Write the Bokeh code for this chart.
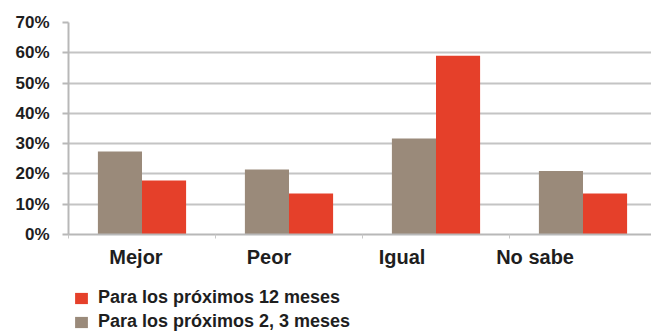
from bokeh.plotting import figure
from bokeh.layouts import column
from bokeh.models import FixedTicker, NumeralTickFormatter, Legend, LegendItem, Range1d
from bokeh.embed import file_html
from bokeh.resources import INLINE
import numpy as np

categories = ["Mejor", "Peor", "Igual", "No sabe"]
series_12 = [0.178, 0.135, 0.59, 0.135]      # Para los próximos 12 meses
series_2_3 = [0.274, 0.215, 0.317, 0.21]     # Para los próximos 2, 3 meses
series_labels = ["Para los próximos 12 meses", "Para los próximos 2, 3 meses"]
y_ticks = [0, 0.1, 0.2, 0.3, 0.4, 0.5, 0.6, 0.7]

RED = "#e5402a"
GRAY = "#9a8a7a"
FONT = "Liberation Sans"
TXT = "#1e1e1e"

n = len(categories)
xc = np.arange(n) + 0.5
bw = 0.3
# category labels in the reference sit a little left of the group centres
label_x = 0.459 + 0.905 * np.arange(n)

p = figure(width=651, height=275, output_backend="svg", toolbar_location=None,
           x_range=Range1d(0, 3.966), y_range=Range1d(0, 0.7),
           min_border_left=68, min_border_right=0, min_border_top=22, min_border_bottom=41)
p.outline_line_color = None
p.background_fill_color = "white"

r_gray = p.vbar(x=xc - 0.15, top=series_2_3, width=bw, fill_color=GRAY, line_color=None)
r_red = p.vbar(x=xc + 0.15, top=series_12, width=bw, fill_color=RED, line_color=None)

# y axis
p.yaxis.ticker = FixedTicker(ticks=y_ticks)
p.yaxis.formatter = NumeralTickFormatter(format="0%")
p.yaxis.axis_line_color = "#b8b8b8"
p.yaxis.axis_line_width = 2
p.yaxis.major_tick_line_color = "#b8b8b8"
p.yaxis.major_tick_line_width = 2
p.yaxis.major_tick_out = 6
p.yaxis.major_tick_in = 0
p.yaxis.minor_tick_line_color = None
p.yaxis.major_label_text_font = FONT
p.yaxis.major_label_text_font_style = "bold"
p.yaxis.major_label_text_font_size = "17px"
p.yaxis.major_label_text_color = TXT
p.yaxis.major_label_standoff = 13

# x axis
p.xaxis.ticker = FixedTicker(ticks=list(label_x), minor_ticks=list(range(n + 1)))
p.xaxis.major_label_overrides = {float(x): c for x, c in zip(label_x, categories)}
p.xaxis.axis_line_color = "#b8b8b8"
p.xaxis.axis_line_width = 2
p.xaxis.major_tick_line_color = None
p.xaxis.minor_tick_line_color = "#c8c8c8"
p.xaxis.minor_tick_out = 4
p.xaxis.minor_tick_in = 0
p.xaxis.major_label_text_font = FONT
p.xaxis.major_label_text_font_style = "bold"
p.xaxis.major_label_text_font_size = "20px"
p.xaxis.major_label_text_color = TXT
p.xaxis.major_label_standoff = 5

p.xgrid.grid_line_color = None
p.ygrid.ticker = FixedTicker(ticks=y_ticks)
p.ygrid.grid_line_color = "#c4c4c4"
p.ygrid.grid_line_width = 2

# legend in a small companion figure underneath (zero-height proxy bars)
q = figure(width=651, height=57, output_backend="svg", toolbar_location=None,
           x_axis_type=None, y_axis_type=None, x_range=Range1d(0, 1), y_range=Range1d(0, 1),
           min_border_left=0, min_border_right=0, min_border_top=0, min_border_bottom=0)
q.outline_line_color = None
q.xgrid.grid_line_color = None
q.ygrid.grid_line_color = None
g_red = q.vbar(x=[0.5], top=[0], width=0.01, fill_color=RED, line_color=None)
g_gray = q.vbar(x=[0.5], top=[0], width=0.01, fill_color=GRAY, line_color=None)

legend = Legend(items=[LegendItem(label=series_labels[0], renderers=[g_red]),
                       LegendItem(label=series_labels[1], renderers=[g_gray])],
                orientation="vertical", location=(5, 0))
legend.label_text_font = FONT
legend.label_text_font_style = "bold"
legend.label_text_font_size = "18px"
legend.label_text_color = TXT
legend.border_line_color = None
legend.background_fill_alpha = 0
legend.glyph_width = 16
legend.glyph_height = 14
legend.label_height = 20
legend.spacing = 3
legend.padding = 0
legend.margin = 0
legend.label_standoff = 9
q.add_layout(legend, "center")

layout = column(p, q, spacing=0)
open("out.html", "w").write(file_html(layout, INLINE))
